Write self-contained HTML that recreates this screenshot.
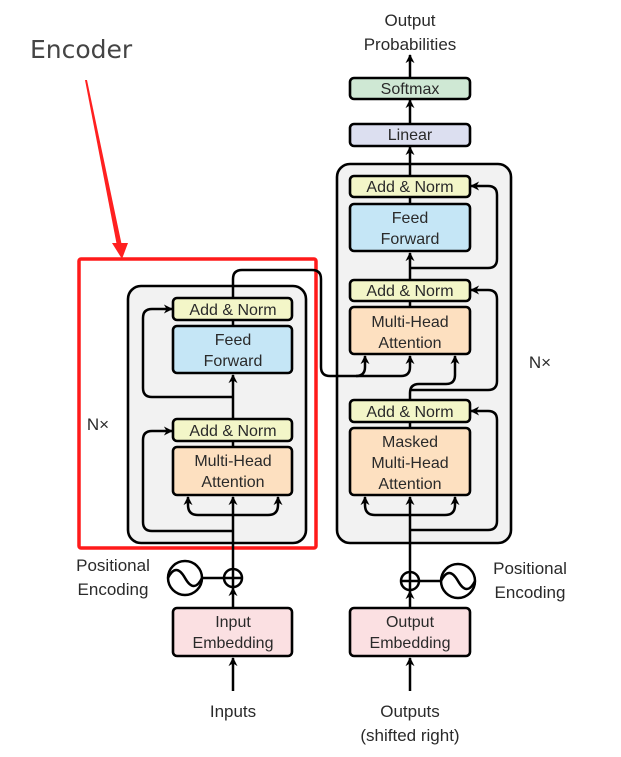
<!DOCTYPE html>
<html><head><meta charset="utf-8"><style>
html,body{margin:0;padding:0;background:#fff}
svg{display:block}
text{font-family:"Liberation Sans",sans-serif;fill:#2a2a2a;text-anchor:middle}
</style></head><body>
<svg width="621" height="757" viewBox="0 0 621 757" xmlns="http://www.w3.org/2000/svg">
<defs>
<marker id="a" viewBox="0 0 10 10" refX="9" refY="5" markerWidth="10" markerHeight="9" orient="auto" markerUnits="userSpaceOnUse">
<path d="M0,0 L10,5 L0,10 L3,5 z" fill="#000"/>
</marker>
</defs>
<g fill="none" stroke="#000" stroke-width="2.6">
<rect x="128" y="286" width="178" height="257" rx="13" fill="#f2f2f2"/>
<rect x="337" y="164" width="174" height="379" rx="13" fill="#f2f2f2"/>
</g>
<rect x="79" y="259" width="237" height="289" fill="none" stroke="#ff1a1a" stroke-width="3.5" rx="2"/>
<polygon points="85,80 87,80 122,246 117,246" fill="#ff2020"/>
<polygon points="112,243 128,243 122,259" fill="#ff2020"/>
<text x="30" y="58" style="font-size:25px;fill:#444;text-anchor:start;font-family:'DejaVu Sans','Liberation Sans',sans-serif">Encoder</text>

<g fill="none" stroke="#000" stroke-width="2.5" stroke-linejoin="round">
<path d="M233 691 V658" marker-end="url(#a)"/>
<path d="M233 608 V588" marker-end="url(#a)"/>
<path d="M233 569 V497" marker-end="url(#a)"/>
<path d="M233 515 H198 Q188 515 188 505 V497" marker-end="url(#a)"/>
<path d="M233 515 H268 Q278 515 278 505 V497" marker-end="url(#a)"/>
<path d="M233 531 H152 Q143 531 143 522 V440 Q143 431 152 431 H172" marker-end="url(#a)"/>
<path d="M233 447 V441"/>
<path d="M233 419 V375" marker-end="url(#a)"/>
<path d="M233 397 H152 Q143 397 143 388 V318 Q143 309 152 309 H172" marker-end="url(#a)"/>
<path d="M233 326 V320"/>
<path d="M233 298 V279 Q233 270 242 270 H312 Q321 270 321 279 V367 Q321 376 330 376 H356 Q365 376 365 367 V356" marker-end="url(#a)"/>
<path d="M356 376 H401 Q410 376 410 367 V356" marker-end="url(#a)"/>
<path d="M410 691 V658" marker-end="url(#a)"/>
<path d="M410 608 V591" marker-end="url(#a)"/>
<path d="M410 572 V497" marker-end="url(#a)"/>
<path d="M410 515 H375 Q365 515 365 505 V497" marker-end="url(#a)"/>
<path d="M410 515 H445 Q455 515 455 505 V497" marker-end="url(#a)"/>
<path d="M410 530 H488 Q497 530 497 521 V420 Q497 411 488 411 H471" marker-end="url(#a)"/>
<path d="M410 428 V422"/>
<path d="M410 400 V393 Q410 384 419 384 H446 Q455 384 455 375 V356" marker-end="url(#a)"/>
<path d="M410 390 H488 Q497 390 497 381 V299 Q497 290 488 290 H471" marker-end="url(#a)"/>
<path d="M410 307 V301"/>
<path d="M410 280 V253" marker-end="url(#a)"/>
<path d="M410 268 H488 Q497 268 497 259 V195 Q497 186 488 186 H471" marker-end="url(#a)"/>
<path d="M410 204 V197"/>
<path d="M410 176 V147" marker-end="url(#a)"/>
<path d="M410 124 V100" marker-end="url(#a)"/>
<path d="M410 78 V55" marker-end="url(#a)"/>
<circle cx="233" cy="578" r="9" fill="#fff"/>
<path d="M224 578 H242 M233 569 V587"/>
<circle cx="185" cy="578" r="17" fill="#fff"/>
<path d="M168 578 Q176 562 185 578 T202 578"/>
<path d="M202 578 H224"/>
<circle cx="410" cy="581" r="9" fill="#fff"/>
<path d="M401 581 H419 M410 572 V590"/>
<circle cx="458" cy="581" r="17" fill="#fff"/>
<path d="M441 581 Q449 565 458 581 T475 581"/>
<path d="M419 581 H441"/>
</g>

<g stroke="#000" stroke-width="2.6">
<rect x="173" y="298" width="119" height="22" rx="4" fill="#f3f6c8"/>
<rect x="173" y="326" width="119" height="47" rx="4" fill="#c5e6f6"/>
<rect x="173" y="419" width="119" height="22" rx="4" fill="#f3f6c8"/>
<rect x="173" y="447" width="119" height="48" rx="4" fill="#fde0c0"/>
<rect x="173" y="608" width="119" height="48" rx="4" fill="#fbe0e2"/>
<rect x="350" y="176" width="120" height="21" rx="4" fill="#f3f6c8"/>
<rect x="350" y="204" width="120" height="47" rx="4" fill="#c5e6f6"/>
<rect x="350" y="280" width="120" height="21" rx="4" fill="#f3f6c8"/>
<rect x="350" y="307" width="120" height="47" rx="4" fill="#fde0c0"/>
<rect x="350" y="400" width="120" height="22" rx="4" fill="#f3f6c8"/>
<rect x="350" y="428" width="120" height="67" rx="4" fill="#fde0c0"/>
<rect x="350" y="608" width="120" height="48" rx="4" fill="#fbe0e2"/>
<rect x="350" y="124" width="120" height="22" rx="4" fill="#dcdff0"/>
<rect x="350" y="78" width="120" height="21" rx="4" fill="#cfe8d4"/>
</g>

<g style="font-size:16px">
<text x="233" y="315">Add &amp; Norm</text>
<text x="233" y="345">Feed</text><text x="233" y="366">Forward</text>
<text x="233" y="436">Add &amp; Norm</text>
<text x="233" y="466">Multi-Head</text><text x="233" y="487">Attention</text>
<text x="233" y="627">Input</text><text x="233" y="648">Embedding</text>
<text x="410" y="192">Add &amp; Norm</text>
<text x="410" y="223">Feed</text><text x="410" y="244">Forward</text>
<text x="410" y="296">Add &amp; Norm</text>
<text x="410" y="327">Multi-Head</text><text x="410" y="348">Attention</text>
<text x="410" y="417">Add &amp; Norm</text>
<text x="410" y="447">Masked</text><text x="410" y="468">Multi-Head</text><text x="410" y="489">Attention</text>
<text x="410" y="627">Output</text><text x="410" y="648">Embedding</text>
<text x="410" y="140">Linear</text>
<text x="410" y="94">Softmax</text>
<text x="410" y="26" style="font-size:17px">Output</text>
<text x="410" y="50" style="font-size:17px">Probabilities</text>
<text x="233" y="717" style="font-size:17px">Inputs</text>
<text x="410" y="717" style="font-size:17px">Outputs</text>
<text x="410" y="741" style="font-size:17px">(shifted right)</text>
<text x="113" y="571" style="font-size:17px">Positional</text>
<text x="113" y="595" style="font-size:17px">Encoding</text>
<text x="530" y="574" style="font-size:17px">Positional</text>
<text x="530" y="598" style="font-size:17px">Encoding</text>
<text x="98" y="430" style="font-size:17px">N×</text>
<text x="540" y="368" style="font-size:17px">N×</text>
</g>
</svg>
</body></html>
